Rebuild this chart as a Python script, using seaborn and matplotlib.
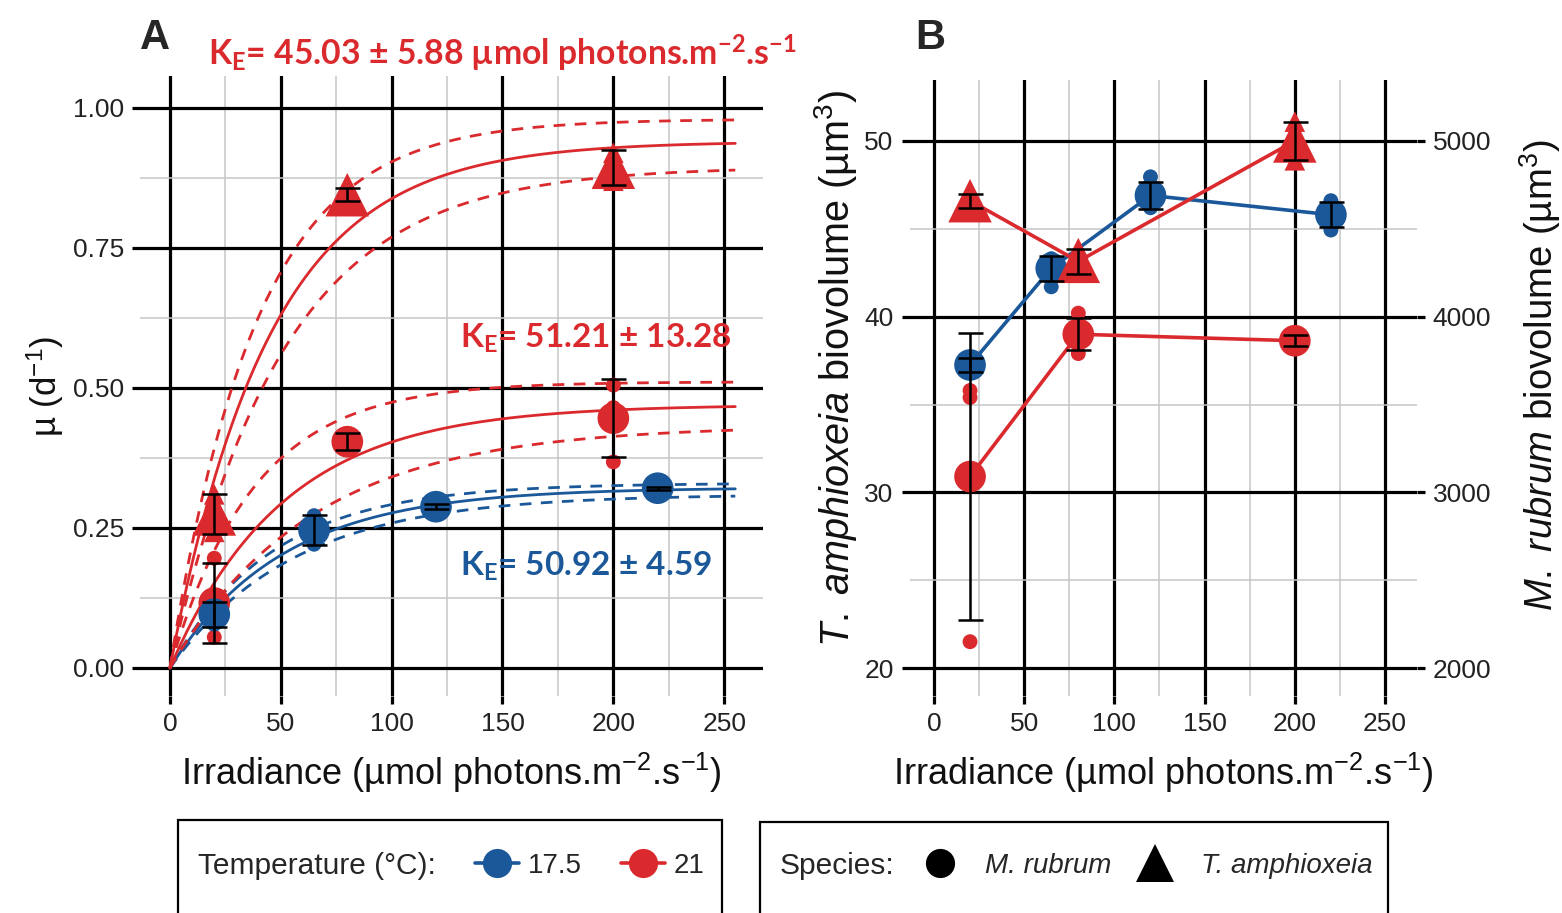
import numpy as np
import pandas as pd
import matplotlib
matplotlib.use("Agg")
import matplotlib.pyplot as plt
from matplotlib.lines import Line2D
from matplotlib.patches import Rectangle
from matplotlib.ticker import FixedLocator, FormatStrFormatter
import seaborn as sns

# ---------------------------------------------------------------- colours
BLUE = "#1B5899"
RED = "#DA2A2E"
PALETTE = {"17.5": BLUE, "21": RED}

# ---------------------------------------------------------------- panel A data
# growth rate (d-1) versus irradiance, mean and sd per culture condition
a_mr175_irr = [20, 65, 120, 220]
a_mr175_mu = [0.096, 0.246, 0.288, 0.321]
a_mr175_sd = [0.022, 0.027, 0.005, 0.003]

a_mr21_irr = [20, 80, 200]
a_mr21_mu = [0.116, 0.404, 0.446]
a_mr21_sd = [0.072, 0.015, 0.070]

a_ta21_irr = [20, 80, 200]
a_ta21_mu = [0.275, 0.845, 0.894]
a_ta21_sd = [0.035, 0.012, 0.031]

# individual replicates
a_rep_mr175 = [[0.110, 0.100, 0.078], [0.272, 0.245, 0.221],
               [0.293, 0.287, 0.284], [0.324, 0.321, 0.318]]
a_rep_mr21 = [[0.196, 0.097, 0.055], [0.419, 0.403, 0.390],
              [0.505, 0.465, 0.368]]
a_rep_ta21 = [[0.310, 0.272, 0.243], [0.857, 0.845, 0.833],
              [0.920, 0.893, 0.870]]

# light-saturation fits: mu = mu_max * (1 - exp(-I / KE))
fit_group = ["M. rubrum 17.5", "M. rubrum 21", "T. amphioxeia 21"]
fit_temp = ["17.5", "21", "21"]
fit_ke = [50.92, 51.21, 45.03]
fit_ke_se = [4.59, 13.28, 5.88]
fit_mu_max = [0.322, 0.470, 0.940]
fit_mu_max_hi = [0.330, 0.511, 0.980]
fit_mu_max_lo = [0.310, 0.433, 0.895]

# ---------------------------------------------------------------- panel B data
# cell biovolume (um3), mean and sd
b_mr175_irr = [20, 65, 120, 220]
b_mr175_vol = [3725, 4275, 4690, 4580]
b_mr175_sd = [40, 70, 75, 70]

b_mr21_irr = [20, 80, 200]
b_mr21_vol = [3090, 3900, 3863]
b_mr21_sd = [815, 90, 30]

b_ta21_irr = [20, 80, 200]
b_ta21_vol = [46.6, 43.15, 50.0]
b_ta21_sd = [0.4, 0.7, 1.1]

b_rep_mr175 = [[3760, 3730, 3685], [4330, 4290, 4170],
               [4796, 4660, 4620], [4660, 4580, 4493]]
b_rep_mr21 = [[3580, 3540, 2150], [4020, 3890, 3790], [3890, 3860, 3840]]
b_rep_ta21 = [[47.0, 46.5, 46.3], [43.9, 43.1, 42.5], [51.1, 50.0, 48.9]]

MR_SCALE = 100  # M. rubrum biovolume shown on the secondary axis (x100)

# ---------------------------------------------------------------- frames
def mean_frame(irr, val, sd, temp, sp, scale=1.0):
    return pd.DataFrame({"irr": irr, "val": np.asarray(val) / scale,
                         "sd": np.asarray(sd) / scale, "temp": temp,
                         "species": sp, "group": f"{sp} {temp}"})


def rep_frame(irr, reps, temp, sp, scale=1.0):
    rows = [(x, v / scale) for x, vals in zip(irr, reps) for v in vals]
    df = pd.DataFrame(rows, columns=["irr", "val"])
    df["temp"], df["species"], df["group"] = temp, sp, f"{sp} {temp}"
    return df


a_means = pd.concat([
    mean_frame(a_ta21_irr, a_ta21_mu, a_ta21_sd, "21", "T. amphioxeia"),
    mean_frame(a_mr21_irr, a_mr21_mu, a_mr21_sd, "21", "M. rubrum"),
    mean_frame(a_mr175_irr, a_mr175_mu, a_mr175_sd, "17.5", "M. rubrum"),
], ignore_index=True)
a_reps = pd.concat([
    rep_frame(a_ta21_irr, a_rep_ta21, "21", "T. amphioxeia"),
    rep_frame(a_mr21_irr, a_rep_mr21, "21", "M. rubrum"),
    rep_frame(a_mr175_irr, a_rep_mr175, "17.5", "M. rubrum"),
], ignore_index=True)

grid = np.linspace(0, 255, 300)
curve_parts = []
for g, t, k, se, m, mh, ml in zip(fit_group, fit_temp, fit_ke, fit_ke_se,
                                  fit_mu_max, fit_mu_max_hi, fit_mu_max_lo):
    for band, kind, mm, kk in [("fit", "fit", m, k), ("upper", "bound", mh, k - se),
                               ("lower", "bound", ml, k + se)]:
        curve_parts.append(pd.DataFrame({
            "irr": grid, "mu": mm * (1 - np.exp(-grid / kk)), "temp": t,
            "kind": kind, "curve": f"{g} {band}"}))
curves = pd.concat(curve_parts, ignore_index=True)

b_means = pd.concat([
    mean_frame(b_mr175_irr, b_mr175_vol, b_mr175_sd, "17.5", "M. rubrum", MR_SCALE),
    mean_frame(b_mr21_irr, b_mr21_vol, b_mr21_sd, "21", "M. rubrum", MR_SCALE),
    mean_frame(b_ta21_irr, b_ta21_vol, b_ta21_sd, "21", "T. amphioxeia"),
], ignore_index=True)
b_reps = pd.concat([
    rep_frame(b_mr175_irr, b_rep_mr175, "17.5", "M. rubrum", MR_SCALE),
    rep_frame(b_mr21_irr, b_rep_mr21, "21", "M. rubrum", MR_SCALE),
    rep_frame(b_ta21_irr, b_rep_ta21, "21", "T. amphioxeia"),
], ignore_index=True)

# ---------------------------------------------------------------- style
sns.set_theme(style="white")
plt.rcParams["font.family"] = ["Liberation Sans", "DejaVu Sans"]
plt.rcParams["mathtext.fontset"] = "custom"
plt.rcParams["mathtext.rm"] = "Liberation Sans"
plt.rcParams["mathtext.it"] = "Liberation Sans:italic"
plt.rcParams["mathtext.bf"] = "Liberation Sans:bold"

W, H = 1562, 913
fig = plt.figure(figsize=(W / 100, H / 100), dpi=100)
axA = fig.add_axes([140 / W, 1 - 696 / H, 623 / W, 620 / H])
axB = fig.add_axes([909.6 / W, 1 - 696 / H, 507 / W, 616 / H])

MARKERS = {"M. rubrum": "o", "T. amphioxeia": "^"}
BIG = {"M. rubrum": 520, "T. amphioxeia": 980}
SMALL = {"M. rubrum": 115, "T. amphioxeia": 220}
TICK_SIZE = 19


def style_axes(ax, ylim, yticks, yminor, yfmt):
    ax.set_xlim(-13.5, 267.5)
    ax.set_ylim(*ylim)
    ax.xaxis.set_major_locator(FixedLocator([0, 50, 100, 150, 200, 250]))
    ax.xaxis.set_minor_locator(FixedLocator([25, 75, 125, 175, 225]))
    ax.yaxis.set_major_locator(FixedLocator(yticks))
    ax.yaxis.set_minor_locator(FixedLocator(yminor))
    ax.yaxis.set_major_formatter(FormatStrFormatter(yfmt))
    ax.grid(which="major", color="black", linewidth=2.3)
    ax.grid(which="minor", color="#C6C6C6", linewidth=1.1)
    ax.tick_params(which="major", length=5.5, width=2.3, color="black",
                   labelsize=TICK_SIZE, labelcolor="#222222", pad=6,
                   bottom=True, left=True)
    ax.tick_params(which="minor", length=0)
    for s in ax.spines.values():
        s.set_visible(False)
    ax.set_axisbelow(True)


def draw_points(ax, means, reps):
    sns.scatterplot(data=reps, x="irr", y="val", hue="temp", style="species",
                    size="species", sizes=SMALL, markers=MARKERS, palette=PALETTE,
                    linewidth=0, legend=False, ax=ax, zorder=4)
    sns.scatterplot(data=means, x="irr", y="val", hue="temp", style="species",
                    size="species", sizes=BIG, markers=MARKERS, palette=PALETTE,
                    linewidth=0, legend=False, ax=ax, zorder=5)
    ax.errorbar(means["irr"], means["val"], yerr=means["sd"], fmt="none",
                ecolor="black", elinewidth=1.8, capsize=9, capthick=1.8, zorder=6)


# ---------------------------------------------------------------- panel A
sns.lineplot(data=curves, x="irr", y="mu", hue="temp", style="kind",
             units="curve", estimator=None, palette=PALETTE,
             dashes={"fit": "", "bound": (4.2, 3.4)}, linewidth=2.0,
             legend=False, ax=axA, zorder=3)
draw_points(axA, a_means, a_reps)
style_axes(axA, (-0.05, 1.057), [0, 0.25, 0.5, 0.75, 1.0],
           [0.125, 0.375, 0.625, 0.875], "%.2f")

AX_TITLE = 26
IRR_LABEL = r"Irradiance (µmol photons.m$\mathregular{^{-2}}$.s$\mathregular{^{-1}}$)"
axA.set_xlabel(IRR_LABEL, fontsize=AX_TITLE, color="#111111")
axA.set_ylabel(r"µ (d$\mathregular{^{-1}}$)", fontsize=25, color="#111111")
axA.xaxis.label.set_va("center")
axA.yaxis.label.set_va("center")
axA.xaxis.set_label_coords(0.5, -0.124)
axA.yaxis.set_label_coords(-0.1525, 0.5)

KE_FONT = dict(family=["Lato", "DejaVu Sans"], weight="bold")
ke_txt = [r"$\mathregular{K_E}$= " + f"{k:.2f} ± {s:.2f}" for k, s in zip(fit_ke, fit_ke_se)]
axA.text(131, 0.164, ke_txt[0], color=BLUE, fontsize=24, ha="left",
         va="baseline", zorder=7, **KE_FONT)
axA.text(131, 0.571, ke_txt[1], color=RED, fontsize=24, ha="left",
         va="baseline", zorder=7, **KE_FONT)
fig.text(208 / W, 1 - 66 / H,
         ke_txt[2] + r" µmol photons.m$\mathregular{^{-2}}$.s$\mathregular{^{-1}}$",
         color=RED, fontsize=24.3, ha="left", va="baseline", **KE_FONT)

# ---------------------------------------------------------------- panel B
sns.lineplot(data=b_means, x="irr", y="val", hue="temp", units="group",
             estimator=None, palette=PALETTE, hue_order=["17.5", "21"],
             linewidth=2.6, legend=False, ax=axB, zorder=3)
draw_points(axB, b_means, b_reps)
style_axes(axB, (18.41, 53.47), [20, 30, 40, 50], [25, 35, 45], "%d")

axB.set_xlabel(IRR_LABEL, fontsize=AX_TITLE, color="#111111")
axB.set_ylabel(r"$\it{T.\ amphioxeia}$ biovolume (µm$\mathregular{^{3}}$)",
               fontsize=28.5, color="#111111")
axB.xaxis.label.set_va("center")
axB.yaxis.label.set_va("center")
axB.xaxis.set_label_coords(0.5, -0.125)
axB.yaxis.set_label_coords(-0.147, 0.532)

sec = axB.secondary_yaxis("right", functions=(lambda y: y * MR_SCALE,
                                               lambda y: y / MR_SCALE))
sec.yaxis.set_major_locator(FixedLocator([2000, 3000, 4000, 5000]))
sec.tick_params(length=5.5, width=2.3, color="black", labelsize=TICK_SIZE,
                labelcolor="#222222", pad=6)
for s in sec.spines.values():
    s.set_visible(False)
sec.set_ylabel(r"$\it{M.\ rubrum}$ biovolume (µm$\mathregular{^{3}}$)",
               fontsize=27.5, color="#111111", rotation=90)
sec.yaxis.label.set_va("center")
sec.yaxis.set_label_coords(1.243, 0.52, transform=axB.transAxes)

# ---------------------------------------------------------------- panel tags
fig.text(140 / W, 1 - 38 / H, "A", fontsize=30, weight="bold", va="center")
fig.text(915 / W, 1 - 38 / H, "B", fontsize=30, weight="bold", va="center")

# ---------------------------------------------------------------- legends
for x0, x1, top in [(178, 722, 820), (760, 1388, 822)]:
    fig.add_artist(Rectangle((x0 / W, -0.05), (x1 - x0) / W, 1 - top / H + 0.05,
                             transform=fig.transFigure, fill=False,
                             edgecolor="black", linewidth=1.6))

LEG_Y = 1 - 866 / H
fig.text(198 / W, LEG_Y, "Temperature (°C):", fontsize=21.5, va="center", ha="left")
temp_handles = [Line2D([], [], color=PALETTE[t], lw=2.6, marker="o", ms=21,
                       markeredgewidth=0) for t in ["17.5", "21"]]
fig.legend(temp_handles, ["17.5", "21"], ncol=2, frameon=False, loc="center left",
           bbox_to_anchor=(475 / W, LEG_Y), fontsize=20, handlelength=1.6,
           handletextpad=0.3, columnspacing=1.4, borderpad=0, borderaxespad=0)

fig.text(780 / W, LEG_Y, "Species:", fontsize=21.5, va="center", ha="left")
sp_handles = [Line2D([], [], color="black", lw=0, marker=MARKERS[s],
                     ms=(21 if s == "M. rubrum" else 28), markeredgewidth=0)
              for s in ["M. rubrum", "T. amphioxeia"]]
fig.legend(sp_handles, ["M. rubrum", "T. amphioxeia"], ncol=2, frameon=False,
           loc="center left", bbox_to_anchor=(920 / W, LEG_Y),
           prop=dict(size=20, style="italic"), handlelength=1.45,
           handletextpad=0.9, columnspacing=0.85, borderpad=0, borderaxespad=0)

fig.savefig("out.png", dpi=100)
